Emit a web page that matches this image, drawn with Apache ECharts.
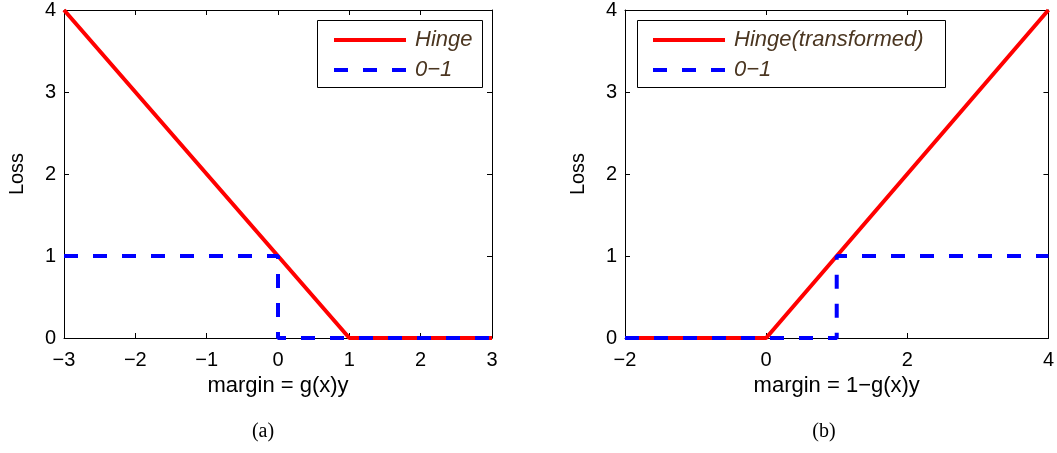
<!DOCTYPE html>
<html>
<head>
<meta charset="utf-8">
<style>
  html, body { margin: 0; padding: 0; background: #fff; }
  #chart { width: 1057px; height: 453px; }
</style>
<script src="https://cdn.jsdelivr.net/npm/echarts@6/dist/echarts.min.js"></script>
</head>
<body>
<div id="chart"></div>
<script>
// ---- data ----
const xTicksA = [-3, -2, -1, 0, 1, 2, 3];
const xTicksB = [-2, 0, 2, 4];
const yTicks = [0, 1, 2, 3, 4];

const hingeA_x = [-3, 1, 3];
const hingeA_y = [4, 0, 0];
const zeroOneA_x = [-3, 0, 0, 3];
const zeroOneA_y = [1, 1, 0, 0];

const hingeB_x = [-2, 0, 4];
const hingeB_y = [0, 0, 4];
const zeroOneB_x = [-2, 1, 1, 4];
const zeroOneB_y = [0, 0, 1, 1];

const nameHingeA = 'Hinge';
const nameHingeB = 'Hinge(transformed)';
const nameZeroOne = '0\u22121';
const xNameA = 'margin = g(x)y';
const xNameB = 'margin = 1\u2212g(x)y';
const yName = 'Loss';
const captionA = '(a)';
const captionB = '(b)';

// ---- helpers ----
const zip = (xs, ys) => xs.map((x, i) => [x, ys[i]]);
const minus = v => String(v).replace('-', '\u2212');
const FONT = 'Liberation Sans, Helvetica, Arial, sans-serif';

function xAxisPair(gridIndex, ticks, name) {
  const min = ticks[0], max = ticks[ticks.length - 1], interval = ticks[1] - ticks[0];
  const common = {
    type: 'value', gridIndex, min, max, interval,
    splitLine: { show: false },
    axisLine: { show: true, onZero: false, lineStyle: { color: '#000', width: 1 } },
    axisTick: { show: true, inside: true, length: 5, lineStyle: { color: '#000', width: 1 } }
  };
  return [
    Object.assign({}, common, {
      position: 'bottom',
      name, nameLocation: 'middle', nameGap: 37,
      nameTextStyle: { fontFamily: FONT, fontSize: 22, color: '#000' },
      axisLabel: { show: true, margin: 12, formatter: minus, fontFamily: FONT, fontSize: 20, color: '#000' }
    }),
    Object.assign({}, common, { position: 'top', axisLabel: { show: false } })
  ];
}

function yAxisPair(gridIndex) {
  const common = {
    type: 'value', gridIndex, min: yTicks[0], max: yTicks[yTicks.length - 1], interval: yTicks[1] - yTicks[0],
    splitLine: { show: false },
    axisLine: { show: true, onZero: false, lineStyle: { color: '#000', width: 1 } },
    axisTick: { show: true, inside: true, length: 5, lineStyle: { color: '#000', width: 1 } }
  };
  return [
    Object.assign({}, common, {
      position: 'left',
      name: yName, nameLocation: 'middle', nameGap: 37, nameRotate: 90,
      nameTextStyle: { fontFamily: FONT, fontSize: 20, color: '#000' },
      axisLabel: { show: true, margin: 8, formatter: minus, fontFamily: FONT, fontSize: 20, color: '#000' }
    }),
    Object.assign({}, common, { position: 'right', axisLabel: { show: false } })
  ];
}

const RED = '#ff0000';
const BLUE = '#0000ff';
const DASH = [14, 15];

const legendCommon = {
  orient: 'vertical', top: 29, padding: 0,
  itemWidth: 72, itemHeight: 12, itemGap: 8, selectedMode: false,
  itemStyle: { opacity: 0 },
  lineStyle: { width: 4 },
  textStyle: { fontFamily: FONT, fontSize: 22, fontStyle: 'italic', color: '#4b3621', padding: [0, 0, 0, 4] }
};

const chart = echarts.init(document.getElementById('chart'), null, { renderer: 'canvas' });

const option = {
  backgroundColor: '#fff',
  animation: false,
  grid: [
    { left: 64, top: 9, width: 428, height: 329, containLabel: false },
    { left: 625, top: 9, width: 429, height: 329, containLabel: false }
  ],
  xAxis: [...xAxisPair(0, xTicksA, xNameA), ...xAxisPair(1, xTicksB, xNameB)],
  yAxis: [...yAxisPair(0), ...yAxisPair(1)],
  legend: [
    Object.assign({}, legendCommon, { data: [nameHingeA, nameZeroOne], left: 332 }),
    Object.assign({}, legendCommon, { data: [nameHingeB, nameZeroOne], left: 651 })
  ],
  graphic: [
    { type: 'rect', shape: { x: 317.5, y: 20.5, width: 165, height: 67 }, style: { fill: 'rgba(0,0,0,0)', stroke: '#000', lineWidth: 1 }, z: 100 },
    { type: 'rect', shape: { x: 637.5, y: 20.5, width: 308, height: 67 }, style: { fill: 'rgba(0,0,0,0)', stroke: '#000', lineWidth: 1 }, z: 100 },
    { type: 'text', x: 263, y: 432, style: { text: captionA, font: '20px "Liberation Serif", serif', fill: '#000', align: 'center', verticalAlign: 'middle' } },
    { type: 'text', x: 824, y: 432, style: { text: captionB, font: '20px "Liberation Serif", serif', fill: '#000', align: 'center', verticalAlign: 'middle' } }
  ],
  series: [
    { name: nameHingeA, type: 'line', xAxisIndex: 0, yAxisIndex: 0, data: zip(hingeA_x, hingeA_y),
      symbol: 'none', lineStyle: { color: RED, width: 4 }, itemStyle: { color: RED }, clip: true },
    { name: nameZeroOne, type: 'line', xAxisIndex: 0, yAxisIndex: 0, data: zip(zeroOneA_x, zeroOneA_y),
      symbol: 'none', lineStyle: { color: BLUE, width: 4, type: DASH }, itemStyle: { color: BLUE }, clip: true },
    { name: nameHingeB, type: 'line', xAxisIndex: 2, yAxisIndex: 2, data: zip(hingeB_x, hingeB_y),
      symbol: 'none', lineStyle: { color: RED, width: 4 }, itemStyle: { color: RED }, clip: true },
    { name: nameZeroOne, type: 'line', xAxisIndex: 2, yAxisIndex: 2, data: zip(zeroOneB_x, zeroOneB_y),
      symbol: 'none', lineStyle: { color: BLUE, width: 4, type: DASH }, itemStyle: { color: BLUE }, clip: true }
  ]
};
chart.setOption(option);
</script>
</body>
</html>
